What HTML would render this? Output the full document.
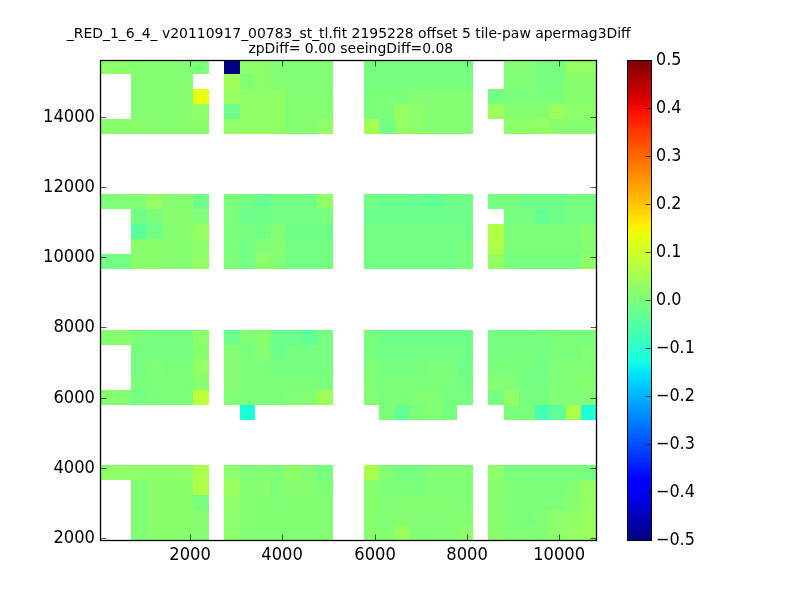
<!DOCTYPE html>
<html lang="en"><head><meta charset="utf-8"><title>apermag3Diff</title>
<style>html,body{margin:0;padding:0;background:#fff;}svg{display:block;}text{font-family:"DejaVu Sans","Liberation Sans",sans-serif;fill:#000;}</style></head><body>
<svg width="800" height="600" viewBox="0 0 800 600">
<defs><linearGradient id="jet" x1="0" y1="0" x2="0" y2="1"><stop offset="0%" stop-color="#800000"/><stop offset="1.56%" stop-color="#920000"/><stop offset="3.12%" stop-color="#a40000"/><stop offset="4.69%" stop-color="#b60000"/><stop offset="6.25%" stop-color="#c80000"/><stop offset="7.81%" stop-color="#da0000"/><stop offset="9.38%" stop-color="#ec0400"/><stop offset="10.94%" stop-color="#fe1200"/><stop offset="12.5%" stop-color="#ff2100"/><stop offset="14.06%" stop-color="#ff3000"/><stop offset="15.62%" stop-color="#ff3f00"/><stop offset="17.19%" stop-color="#ff4d00"/><stop offset="18.75%" stop-color="#ff5c00"/><stop offset="20.31%" stop-color="#ff6b00"/><stop offset="21.88%" stop-color="#ff7a00"/><stop offset="23.44%" stop-color="#ff8800"/><stop offset="25%" stop-color="#ff9700"/><stop offset="26.56%" stop-color="#ffa600"/><stop offset="28.12%" stop-color="#ffb500"/><stop offset="29.69%" stop-color="#ffc300"/><stop offset="31.25%" stop-color="#ffd200"/><stop offset="32.81%" stop-color="#ffe100"/><stop offset="34.38%" stop-color="#fcf000"/><stop offset="35.94%" stop-color="#effe08"/><stop offset="37.5%" stop-color="#e2ff15"/><stop offset="39.06%" stop-color="#d5ff21"/><stop offset="40.62%" stop-color="#c9ff2e"/><stop offset="42.19%" stop-color="#bcff3b"/><stop offset="43.75%" stop-color="#afff48"/><stop offset="45.31%" stop-color="#a2ff55"/><stop offset="46.88%" stop-color="#95ff62"/><stop offset="48.44%" stop-color="#88ff6f"/><stop offset="50%" stop-color="#7bff7b"/><stop offset="51.56%" stop-color="#6fff88"/><stop offset="53.12%" stop-color="#62ff95"/><stop offset="54.69%" stop-color="#55ffa2"/><stop offset="56.25%" stop-color="#48ffaf"/><stop offset="57.81%" stop-color="#3bffbc"/><stop offset="59.38%" stop-color="#2effc9"/><stop offset="60.94%" stop-color="#21ffd5"/><stop offset="62.5%" stop-color="#15ffe2"/><stop offset="64.06%" stop-color="#08efef"/><stop offset="65.62%" stop-color="#00dffc"/><stop offset="67.19%" stop-color="#00cfff"/><stop offset="68.75%" stop-color="#00bfff"/><stop offset="70.31%" stop-color="#00afff"/><stop offset="71.88%" stop-color="#009fff"/><stop offset="73.44%" stop-color="#008fff"/><stop offset="75%" stop-color="#0080ff"/><stop offset="76.56%" stop-color="#0070ff"/><stop offset="78.12%" stop-color="#0060ff"/><stop offset="79.69%" stop-color="#0050ff"/><stop offset="81.25%" stop-color="#0040ff"/><stop offset="82.81%" stop-color="#0030ff"/><stop offset="84.38%" stop-color="#0020ff"/><stop offset="85.94%" stop-color="#0010ff"/><stop offset="87.5%" stop-color="#0000ff"/><stop offset="89.06%" stop-color="#0000fe"/><stop offset="90.62%" stop-color="#0000ec"/><stop offset="92.19%" stop-color="#0000da"/><stop offset="93.75%" stop-color="#0000c8"/><stop offset="95.31%" stop-color="#0000b6"/><stop offset="96.88%" stop-color="#0000a4"/><stop offset="98.44%" stop-color="#000092"/><stop offset="100%" stop-color="#000080"/></linearGradient></defs>
<rect width="800" height="600" fill="#fff"/>
<g id="cells" shape-rendering="crispEdges"><rect x="100" y="60" width="16" height="14" fill="#8dff69"/>
<rect x="116" y="60" width="15" height="14" fill="#8dff69"/>
<rect x="131" y="60" width="16" height="14" fill="#84ff73"/>
<rect x="147" y="60" width="15" height="14" fill="#84ff73"/>
<rect x="162" y="60" width="16" height="14" fill="#84ff73"/>
<rect x="178" y="60" width="15" height="14" fill="#84ff73"/>
<rect x="193" y="60" width="16" height="14" fill="#7bff7b"/>
<rect x="224" y="60" width="16" height="14" fill="#000080"/>
<rect x="240" y="60" width="15" height="14" fill="#8cff6b"/>
<rect x="255" y="60" width="16" height="14" fill="#8cff6b"/>
<rect x="271" y="60" width="15" height="14" fill="#82ff75"/>
<rect x="286" y="60" width="16" height="14" fill="#82ff75"/>
<rect x="302" y="60" width="15" height="14" fill="#82ff75"/>
<rect x="317" y="60" width="16" height="14" fill="#82ff75"/>
<rect x="364" y="60" width="15" height="14" fill="#77ff80"/>
<rect x="379" y="60" width="16" height="14" fill="#77ff80"/>
<rect x="395" y="60" width="15" height="14" fill="#77ff80"/>
<rect x="410" y="60" width="16" height="14" fill="#77ff80"/>
<rect x="426" y="60" width="16" height="14" fill="#77ff80"/>
<rect x="442" y="60" width="15" height="14" fill="#77ff80"/>
<rect x="457" y="60" width="16" height="14" fill="#77ff80"/>
<rect x="504" y="60" width="15" height="14" fill="#84ff73"/>
<rect x="519" y="60" width="16" height="14" fill="#84ff73"/>
<rect x="535" y="60" width="15" height="14" fill="#77ff80"/>
<rect x="550" y="60" width="16" height="14" fill="#77ff80"/>
<rect x="566" y="60" width="15" height="14" fill="#94ff63"/>
<rect x="581" y="60" width="16" height="14" fill="#94ff63"/>
<rect x="131" y="74" width="16" height="15" fill="#84ff73"/>
<rect x="147" y="74" width="15" height="15" fill="#84ff73"/>
<rect x="162" y="74" width="16" height="15" fill="#84ff73"/>
<rect x="178" y="74" width="15" height="15" fill="#84ff73"/>
<rect x="224" y="74" width="16" height="15" fill="#a0ff56"/>
<rect x="240" y="74" width="15" height="15" fill="#80ff76"/>
<rect x="255" y="74" width="16" height="15" fill="#8cff6b"/>
<rect x="271" y="74" width="15" height="15" fill="#82ff75"/>
<rect x="286" y="74" width="16" height="15" fill="#82ff75"/>
<rect x="302" y="74" width="15" height="15" fill="#82ff75"/>
<rect x="317" y="74" width="16" height="15" fill="#82ff75"/>
<rect x="364" y="74" width="15" height="15" fill="#77ff80"/>
<rect x="379" y="74" width="16" height="15" fill="#77ff80"/>
<rect x="395" y="74" width="15" height="15" fill="#77ff80"/>
<rect x="410" y="74" width="16" height="15" fill="#77ff80"/>
<rect x="426" y="74" width="16" height="15" fill="#77ff80"/>
<rect x="442" y="74" width="15" height="15" fill="#77ff80"/>
<rect x="457" y="74" width="16" height="15" fill="#77ff80"/>
<rect x="504" y="74" width="15" height="15" fill="#80ff77"/>
<rect x="519" y="74" width="16" height="15" fill="#80ff77"/>
<rect x="535" y="74" width="15" height="15" fill="#77ff80"/>
<rect x="550" y="74" width="16" height="15" fill="#77ff80"/>
<rect x="566" y="74" width="15" height="15" fill="#88ff6f"/>
<rect x="581" y="74" width="16" height="15" fill="#88ff6f"/>
<rect x="131" y="89" width="16" height="15" fill="#84ff73"/>
<rect x="147" y="89" width="15" height="15" fill="#84ff73"/>
<rect x="162" y="89" width="16" height="15" fill="#85ff72"/>
<rect x="178" y="89" width="15" height="15" fill="#85ff72"/>
<rect x="193" y="89" width="16" height="15" fill="#e6ff10"/>
<rect x="224" y="89" width="16" height="15" fill="#98ff5f"/>
<rect x="240" y="89" width="15" height="15" fill="#90ff67"/>
<rect x="255" y="89" width="16" height="15" fill="#90ff67"/>
<rect x="271" y="89" width="15" height="15" fill="#90ff67"/>
<rect x="286" y="89" width="16" height="15" fill="#85ff72"/>
<rect x="302" y="89" width="15" height="15" fill="#85ff72"/>
<rect x="317" y="89" width="16" height="15" fill="#85ff72"/>
<rect x="364" y="89" width="15" height="15" fill="#7bff7b"/>
<rect x="379" y="89" width="16" height="15" fill="#7bff7b"/>
<rect x="395" y="89" width="15" height="15" fill="#7bff7b"/>
<rect x="410" y="89" width="16" height="15" fill="#84ff73"/>
<rect x="426" y="89" width="16" height="15" fill="#84ff73"/>
<rect x="442" y="89" width="15" height="15" fill="#84ff73"/>
<rect x="457" y="89" width="16" height="15" fill="#84ff73"/>
<rect x="488" y="89" width="16" height="15" fill="#73ff84"/>
<rect x="504" y="89" width="15" height="15" fill="#7bff7b"/>
<rect x="519" y="89" width="16" height="15" fill="#7bff7b"/>
<rect x="535" y="89" width="15" height="15" fill="#7bff7b"/>
<rect x="550" y="89" width="16" height="15" fill="#7bff7b"/>
<rect x="566" y="89" width="15" height="15" fill="#88ff6f"/>
<rect x="581" y="89" width="16" height="15" fill="#88ff6f"/>
<rect x="131" y="104" width="16" height="15" fill="#84ff73"/>
<rect x="147" y="104" width="15" height="15" fill="#84ff73"/>
<rect x="162" y="104" width="16" height="15" fill="#85ff72"/>
<rect x="178" y="104" width="15" height="15" fill="#87ff70"/>
<rect x="193" y="104" width="16" height="15" fill="#8cff6b"/>
<rect x="224" y="104" width="16" height="15" fill="#6fff88"/>
<rect x="240" y="104" width="15" height="15" fill="#90ff67"/>
<rect x="255" y="104" width="16" height="15" fill="#90ff67"/>
<rect x="271" y="104" width="15" height="15" fill="#90ff67"/>
<rect x="286" y="104" width="16" height="15" fill="#85ff72"/>
<rect x="302" y="104" width="15" height="15" fill="#85ff72"/>
<rect x="317" y="104" width="16" height="15" fill="#85ff72"/>
<rect x="364" y="104" width="15" height="15" fill="#7bff7b"/>
<rect x="379" y="104" width="16" height="15" fill="#7bff7b"/>
<rect x="395" y="104" width="15" height="15" fill="#94ff63"/>
<rect x="410" y="104" width="16" height="15" fill="#8cff6b"/>
<rect x="426" y="104" width="16" height="15" fill="#84ff73"/>
<rect x="442" y="104" width="15" height="15" fill="#84ff73"/>
<rect x="457" y="104" width="16" height="15" fill="#84ff73"/>
<rect x="488" y="104" width="16" height="15" fill="#9cff5a"/>
<rect x="504" y="104" width="15" height="15" fill="#88ff6f"/>
<rect x="519" y="104" width="16" height="15" fill="#88ff6f"/>
<rect x="535" y="104" width="15" height="15" fill="#88ff6f"/>
<rect x="550" y="104" width="16" height="15" fill="#98ff5f"/>
<rect x="566" y="104" width="15" height="15" fill="#8cff6b"/>
<rect x="581" y="104" width="16" height="15" fill="#8cff6b"/>
<rect x="100" y="119" width="16" height="15" fill="#89ff6e"/>
<rect x="116" y="119" width="15" height="15" fill="#89ff6e"/>
<rect x="131" y="119" width="16" height="15" fill="#89ff6e"/>
<rect x="147" y="119" width="15" height="15" fill="#86ff71"/>
<rect x="162" y="119" width="16" height="15" fill="#86ff71"/>
<rect x="178" y="119" width="15" height="15" fill="#89ff6e"/>
<rect x="193" y="119" width="16" height="15" fill="#89ff6e"/>
<rect x="224" y="119" width="16" height="15" fill="#90ff67"/>
<rect x="240" y="119" width="15" height="15" fill="#90ff67"/>
<rect x="255" y="119" width="16" height="15" fill="#90ff67"/>
<rect x="271" y="119" width="15" height="15" fill="#90ff67"/>
<rect x="286" y="119" width="16" height="15" fill="#85ff72"/>
<rect x="302" y="119" width="15" height="15" fill="#85ff72"/>
<rect x="317" y="119" width="16" height="15" fill="#90ff67"/>
<rect x="364" y="119" width="15" height="15" fill="#a5ff52"/>
<rect x="379" y="119" width="16" height="15" fill="#73ff84"/>
<rect x="395" y="119" width="15" height="15" fill="#94ff63"/>
<rect x="410" y="119" width="16" height="15" fill="#8cff6b"/>
<rect x="426" y="119" width="16" height="15" fill="#84ff73"/>
<rect x="442" y="119" width="15" height="15" fill="#84ff73"/>
<rect x="457" y="119" width="16" height="15" fill="#84ff73"/>
<rect x="504" y="119" width="15" height="15" fill="#8cff6b"/>
<rect x="519" y="119" width="16" height="15" fill="#8cff6b"/>
<rect x="535" y="119" width="15" height="15" fill="#94ff63"/>
<rect x="550" y="119" width="16" height="15" fill="#88ff6f"/>
<rect x="566" y="119" width="15" height="15" fill="#88ff6f"/>
<rect x="581" y="119" width="16" height="15" fill="#88ff6f"/>
<rect x="100" y="194" width="16" height="15" fill="#80ff77"/>
<rect x="116" y="194" width="15" height="15" fill="#80ff77"/>
<rect x="131" y="194" width="16" height="15" fill="#84ff73"/>
<rect x="147" y="194" width="15" height="15" fill="#94ff63"/>
<rect x="162" y="194" width="16" height="15" fill="#88ff6f"/>
<rect x="178" y="194" width="15" height="15" fill="#88ff6f"/>
<rect x="193" y="194" width="16" height="15" fill="#6fff88"/>
<rect x="224" y="194" width="16" height="15" fill="#7bff7b"/>
<rect x="240" y="194" width="15" height="15" fill="#73ff84"/>
<rect x="255" y="194" width="16" height="15" fill="#67ff90"/>
<rect x="271" y="194" width="15" height="15" fill="#73ff84"/>
<rect x="286" y="194" width="16" height="15" fill="#73ff84"/>
<rect x="302" y="194" width="15" height="15" fill="#73ff84"/>
<rect x="317" y="194" width="16" height="15" fill="#90ff67"/>
<rect x="364" y="194" width="15" height="15" fill="#72ff85"/>
<rect x="379" y="194" width="16" height="15" fill="#6bff8c"/>
<rect x="395" y="194" width="15" height="15" fill="#6bff8c"/>
<rect x="410" y="194" width="16" height="15" fill="#67ff90"/>
<rect x="426" y="194" width="16" height="15" fill="#64ff92"/>
<rect x="442" y="194" width="15" height="15" fill="#6dff8a"/>
<rect x="457" y="194" width="16" height="15" fill="#6fff88"/>
<rect x="488" y="194" width="16" height="15" fill="#77ff80"/>
<rect x="504" y="194" width="15" height="15" fill="#77ff80"/>
<rect x="519" y="194" width="16" height="15" fill="#6fff88"/>
<rect x="535" y="194" width="15" height="15" fill="#6fff88"/>
<rect x="550" y="194" width="16" height="15" fill="#6fff88"/>
<rect x="566" y="194" width="15" height="15" fill="#77ff80"/>
<rect x="581" y="194" width="16" height="15" fill="#77ff80"/>
<rect x="131" y="209" width="16" height="15" fill="#72ff85"/>
<rect x="147" y="209" width="15" height="15" fill="#7bff7b"/>
<rect x="162" y="209" width="16" height="15" fill="#88ff6f"/>
<rect x="178" y="209" width="15" height="15" fill="#88ff6f"/>
<rect x="193" y="209" width="16" height="15" fill="#80ff77"/>
<rect x="224" y="209" width="16" height="15" fill="#7bff7b"/>
<rect x="240" y="209" width="15" height="15" fill="#6fff88"/>
<rect x="255" y="209" width="16" height="15" fill="#6fff88"/>
<rect x="271" y="209" width="15" height="15" fill="#73ff84"/>
<rect x="286" y="209" width="16" height="15" fill="#73ff84"/>
<rect x="302" y="209" width="15" height="15" fill="#73ff84"/>
<rect x="317" y="209" width="16" height="15" fill="#77ff80"/>
<rect x="364" y="209" width="15" height="15" fill="#6eff89"/>
<rect x="379" y="209" width="16" height="15" fill="#6dff8a"/>
<rect x="395" y="209" width="15" height="15" fill="#6dff8a"/>
<rect x="410" y="209" width="16" height="15" fill="#6dff8a"/>
<rect x="426" y="209" width="16" height="15" fill="#6dff8a"/>
<rect x="442" y="209" width="15" height="15" fill="#6dff8a"/>
<rect x="457" y="209" width="16" height="15" fill="#6fff88"/>
<rect x="504" y="209" width="15" height="15" fill="#77ff80"/>
<rect x="519" y="209" width="16" height="15" fill="#77ff80"/>
<rect x="535" y="209" width="15" height="15" fill="#63ff94"/>
<rect x="550" y="209" width="16" height="15" fill="#6fff88"/>
<rect x="566" y="209" width="15" height="15" fill="#77ff80"/>
<rect x="581" y="209" width="16" height="15" fill="#77ff80"/>
<rect x="131" y="224" width="16" height="15" fill="#5aff9c"/>
<rect x="147" y="224" width="15" height="15" fill="#73ff84"/>
<rect x="162" y="224" width="16" height="15" fill="#80ff77"/>
<rect x="178" y="224" width="15" height="15" fill="#88ff6f"/>
<rect x="193" y="224" width="16" height="15" fill="#94ff63"/>
<rect x="224" y="224" width="16" height="15" fill="#7bff7b"/>
<rect x="240" y="224" width="15" height="15" fill="#77ff80"/>
<rect x="255" y="224" width="16" height="15" fill="#73ff84"/>
<rect x="271" y="224" width="15" height="15" fill="#84ff73"/>
<rect x="286" y="224" width="16" height="15" fill="#6fff88"/>
<rect x="302" y="224" width="15" height="15" fill="#6fff88"/>
<rect x="317" y="224" width="16" height="15" fill="#6fff88"/>
<rect x="364" y="224" width="15" height="15" fill="#72ff85"/>
<rect x="379" y="224" width="16" height="15" fill="#72ff85"/>
<rect x="395" y="224" width="15" height="15" fill="#72ff85"/>
<rect x="410" y="224" width="16" height="15" fill="#72ff85"/>
<rect x="426" y="224" width="16" height="15" fill="#72ff85"/>
<rect x="442" y="224" width="15" height="15" fill="#72ff85"/>
<rect x="457" y="224" width="16" height="15" fill="#72ff85"/>
<rect x="488" y="224" width="16" height="15" fill="#b1ff46"/>
<rect x="504" y="224" width="15" height="15" fill="#7bff7b"/>
<rect x="519" y="224" width="16" height="15" fill="#7bff7b"/>
<rect x="535" y="224" width="15" height="15" fill="#7bff7b"/>
<rect x="550" y="224" width="16" height="15" fill="#7bff7b"/>
<rect x="566" y="224" width="15" height="15" fill="#7bff7b"/>
<rect x="581" y="224" width="16" height="15" fill="#88ff6f"/>
<rect x="131" y="239" width="16" height="15" fill="#8aff6d"/>
<rect x="147" y="239" width="15" height="15" fill="#8aff6d"/>
<rect x="162" y="239" width="16" height="15" fill="#86ff71"/>
<rect x="178" y="239" width="15" height="15" fill="#86ff71"/>
<rect x="193" y="239" width="16" height="15" fill="#8dff69"/>
<rect x="224" y="239" width="16" height="15" fill="#7bff7b"/>
<rect x="240" y="239" width="15" height="15" fill="#73ff84"/>
<rect x="255" y="239" width="16" height="15" fill="#80ff77"/>
<rect x="271" y="239" width="15" height="15" fill="#84ff73"/>
<rect x="286" y="239" width="16" height="15" fill="#73ff84"/>
<rect x="302" y="239" width="15" height="15" fill="#73ff84"/>
<rect x="317" y="239" width="16" height="15" fill="#73ff84"/>
<rect x="364" y="239" width="15" height="15" fill="#72ff85"/>
<rect x="379" y="239" width="16" height="15" fill="#72ff85"/>
<rect x="395" y="239" width="15" height="15" fill="#72ff85"/>
<rect x="410" y="239" width="16" height="15" fill="#72ff85"/>
<rect x="426" y="239" width="16" height="15" fill="#72ff85"/>
<rect x="442" y="239" width="15" height="15" fill="#72ff85"/>
<rect x="457" y="239" width="16" height="15" fill="#78ff7f"/>
<rect x="488" y="239" width="16" height="15" fill="#adff4a"/>
<rect x="504" y="239" width="15" height="15" fill="#7bff7b"/>
<rect x="519" y="239" width="16" height="15" fill="#7bff7b"/>
<rect x="535" y="239" width="15" height="15" fill="#7bff7b"/>
<rect x="550" y="239" width="16" height="15" fill="#7bff7b"/>
<rect x="566" y="239" width="15" height="15" fill="#7bff7b"/>
<rect x="581" y="239" width="16" height="15" fill="#84ff73"/>
<rect x="100" y="254" width="16" height="15" fill="#73ff84"/>
<rect x="116" y="254" width="15" height="15" fill="#73ff84"/>
<rect x="131" y="254" width="16" height="15" fill="#8aff6d"/>
<rect x="147" y="254" width="15" height="15" fill="#8aff6d"/>
<rect x="162" y="254" width="16" height="15" fill="#86ff71"/>
<rect x="178" y="254" width="15" height="15" fill="#86ff71"/>
<rect x="193" y="254" width="16" height="15" fill="#92ff64"/>
<rect x="224" y="254" width="16" height="15" fill="#7bff7b"/>
<rect x="240" y="254" width="15" height="15" fill="#73ff84"/>
<rect x="255" y="254" width="16" height="15" fill="#8cff6b"/>
<rect x="271" y="254" width="15" height="15" fill="#80ff77"/>
<rect x="286" y="254" width="16" height="15" fill="#73ff84"/>
<rect x="302" y="254" width="15" height="15" fill="#73ff84"/>
<rect x="317" y="254" width="16" height="15" fill="#73ff84"/>
<rect x="364" y="254" width="15" height="15" fill="#72ff85"/>
<rect x="379" y="254" width="16" height="15" fill="#72ff85"/>
<rect x="395" y="254" width="15" height="15" fill="#72ff85"/>
<rect x="410" y="254" width="16" height="15" fill="#72ff85"/>
<rect x="426" y="254" width="16" height="15" fill="#72ff85"/>
<rect x="442" y="254" width="15" height="15" fill="#72ff85"/>
<rect x="457" y="254" width="16" height="15" fill="#78ff7f"/>
<rect x="488" y="254" width="16" height="15" fill="#94ff63"/>
<rect x="504" y="254" width="15" height="15" fill="#77ff80"/>
<rect x="519" y="254" width="16" height="15" fill="#77ff80"/>
<rect x="535" y="254" width="15" height="15" fill="#77ff80"/>
<rect x="550" y="254" width="16" height="15" fill="#77ff80"/>
<rect x="566" y="254" width="15" height="15" fill="#77ff80"/>
<rect x="581" y="254" width="16" height="15" fill="#90ff67"/>
<rect x="100" y="330" width="16" height="15" fill="#88ff6f"/>
<rect x="116" y="330" width="15" height="15" fill="#88ff6f"/>
<rect x="131" y="330" width="16" height="15" fill="#7bff7b"/>
<rect x="147" y="330" width="15" height="15" fill="#77ff80"/>
<rect x="162" y="330" width="16" height="15" fill="#77ff80"/>
<rect x="178" y="330" width="15" height="15" fill="#77ff80"/>
<rect x="193" y="330" width="16" height="15" fill="#8cff6b"/>
<rect x="224" y="330" width="16" height="15" fill="#6bff8c"/>
<rect x="240" y="330" width="15" height="15" fill="#80ff77"/>
<rect x="255" y="330" width="16" height="15" fill="#88ff6f"/>
<rect x="271" y="330" width="15" height="15" fill="#6bff8c"/>
<rect x="286" y="330" width="16" height="15" fill="#6bff8c"/>
<rect x="302" y="330" width="15" height="15" fill="#5fff98"/>
<rect x="317" y="330" width="16" height="15" fill="#77ff80"/>
<rect x="364" y="330" width="15" height="15" fill="#77ff80"/>
<rect x="379" y="330" width="16" height="15" fill="#6eff89"/>
<rect x="395" y="330" width="15" height="15" fill="#6dff8a"/>
<rect x="410" y="330" width="16" height="15" fill="#6dff8a"/>
<rect x="426" y="330" width="16" height="15" fill="#6dff8a"/>
<rect x="442" y="330" width="15" height="15" fill="#6dff8a"/>
<rect x="457" y="330" width="16" height="15" fill="#6eff89"/>
<rect x="488" y="330" width="16" height="15" fill="#77ff80"/>
<rect x="504" y="330" width="15" height="15" fill="#77ff80"/>
<rect x="519" y="330" width="16" height="15" fill="#77ff80"/>
<rect x="535" y="330" width="15" height="15" fill="#76ff81"/>
<rect x="550" y="330" width="16" height="15" fill="#7bff7b"/>
<rect x="566" y="330" width="15" height="15" fill="#7bff7b"/>
<rect x="581" y="330" width="16" height="15" fill="#7bff7b"/>
<rect x="131" y="345" width="16" height="15" fill="#77ff80"/>
<rect x="147" y="345" width="15" height="15" fill="#77ff80"/>
<rect x="162" y="345" width="16" height="15" fill="#77ff80"/>
<rect x="178" y="345" width="15" height="15" fill="#77ff80"/>
<rect x="193" y="345" width="16" height="15" fill="#88ff6f"/>
<rect x="224" y="345" width="16" height="15" fill="#84ff73"/>
<rect x="240" y="345" width="15" height="15" fill="#7bff7b"/>
<rect x="255" y="345" width="16" height="15" fill="#84ff73"/>
<rect x="271" y="345" width="15" height="15" fill="#6bff8c"/>
<rect x="286" y="345" width="16" height="15" fill="#77ff80"/>
<rect x="302" y="345" width="15" height="15" fill="#77ff80"/>
<rect x="317" y="345" width="16" height="15" fill="#77ff80"/>
<rect x="364" y="345" width="15" height="15" fill="#77ff80"/>
<rect x="379" y="345" width="16" height="15" fill="#72ff85"/>
<rect x="395" y="345" width="15" height="15" fill="#72ff85"/>
<rect x="410" y="345" width="16" height="15" fill="#72ff85"/>
<rect x="426" y="345" width="16" height="15" fill="#72ff85"/>
<rect x="442" y="345" width="15" height="15" fill="#72ff85"/>
<rect x="457" y="345" width="16" height="15" fill="#72ff85"/>
<rect x="488" y="345" width="16" height="15" fill="#77ff80"/>
<rect x="504" y="345" width="15" height="15" fill="#77ff80"/>
<rect x="519" y="345" width="16" height="15" fill="#77ff80"/>
<rect x="535" y="345" width="15" height="15" fill="#73ff84"/>
<rect x="550" y="345" width="16" height="15" fill="#7bff7b"/>
<rect x="566" y="345" width="15" height="15" fill="#7bff7b"/>
<rect x="581" y="345" width="16" height="15" fill="#84ff73"/>
<rect x="131" y="360" width="16" height="15" fill="#77ff80"/>
<rect x="147" y="360" width="15" height="15" fill="#80ff77"/>
<rect x="162" y="360" width="16" height="15" fill="#7bff7b"/>
<rect x="178" y="360" width="15" height="15" fill="#7bff7b"/>
<rect x="193" y="360" width="16" height="15" fill="#94ff63"/>
<rect x="224" y="360" width="16" height="15" fill="#84ff73"/>
<rect x="240" y="360" width="15" height="15" fill="#7bff7b"/>
<rect x="255" y="360" width="16" height="15" fill="#7bff7b"/>
<rect x="271" y="360" width="15" height="15" fill="#77ff80"/>
<rect x="286" y="360" width="16" height="15" fill="#77ff80"/>
<rect x="302" y="360" width="15" height="15" fill="#77ff80"/>
<rect x="317" y="360" width="16" height="15" fill="#77ff80"/>
<rect x="364" y="360" width="15" height="15" fill="#80ff77"/>
<rect x="379" y="360" width="16" height="15" fill="#77ff80"/>
<rect x="395" y="360" width="15" height="15" fill="#77ff80"/>
<rect x="410" y="360" width="16" height="15" fill="#77ff80"/>
<rect x="426" y="360" width="16" height="15" fill="#7eff79"/>
<rect x="442" y="360" width="15" height="15" fill="#7eff79"/>
<rect x="457" y="360" width="16" height="15" fill="#6fff88"/>
<rect x="488" y="360" width="16" height="15" fill="#7bff7b"/>
<rect x="504" y="360" width="15" height="15" fill="#7bff7b"/>
<rect x="519" y="360" width="16" height="15" fill="#77ff80"/>
<rect x="535" y="360" width="15" height="15" fill="#73ff84"/>
<rect x="550" y="360" width="16" height="15" fill="#80ff77"/>
<rect x="566" y="360" width="15" height="15" fill="#80ff77"/>
<rect x="581" y="360" width="16" height="15" fill="#80ff77"/>
<rect x="131" y="375" width="16" height="15" fill="#7bff7b"/>
<rect x="147" y="375" width="15" height="15" fill="#7bff7b"/>
<rect x="162" y="375" width="16" height="15" fill="#7bff7b"/>
<rect x="178" y="375" width="15" height="15" fill="#7bff7b"/>
<rect x="193" y="375" width="16" height="15" fill="#88ff6f"/>
<rect x="224" y="375" width="16" height="15" fill="#84ff73"/>
<rect x="240" y="375" width="15" height="15" fill="#7bff7b"/>
<rect x="255" y="375" width="16" height="15" fill="#7bff7b"/>
<rect x="271" y="375" width="15" height="15" fill="#7bff7b"/>
<rect x="286" y="375" width="16" height="15" fill="#7bff7b"/>
<rect x="302" y="375" width="15" height="15" fill="#7bff7b"/>
<rect x="317" y="375" width="16" height="15" fill="#7bff7b"/>
<rect x="364" y="375" width="15" height="15" fill="#80ff77"/>
<rect x="379" y="375" width="16" height="15" fill="#7bff7b"/>
<rect x="395" y="375" width="15" height="15" fill="#7bff7b"/>
<rect x="410" y="375" width="16" height="15" fill="#7bff7b"/>
<rect x="426" y="375" width="16" height="15" fill="#7bff7b"/>
<rect x="442" y="375" width="15" height="15" fill="#7bff7b"/>
<rect x="457" y="375" width="16" height="15" fill="#75ff82"/>
<rect x="488" y="375" width="16" height="15" fill="#84ff73"/>
<rect x="504" y="375" width="15" height="15" fill="#80ff77"/>
<rect x="519" y="375" width="16" height="15" fill="#75ff82"/>
<rect x="535" y="375" width="15" height="15" fill="#75ff82"/>
<rect x="550" y="375" width="16" height="15" fill="#80ff77"/>
<rect x="566" y="375" width="15" height="15" fill="#80ff77"/>
<rect x="581" y="375" width="16" height="15" fill="#88ff6f"/>
<rect x="100" y="390" width="16" height="15" fill="#88ff6f"/>
<rect x="116" y="390" width="15" height="15" fill="#84ff73"/>
<rect x="131" y="390" width="16" height="15" fill="#73ff84"/>
<rect x="147" y="390" width="15" height="15" fill="#7bff7b"/>
<rect x="162" y="390" width="16" height="15" fill="#7bff7b"/>
<rect x="178" y="390" width="15" height="15" fill="#7bff7b"/>
<rect x="193" y="390" width="16" height="15" fill="#bdff3a"/>
<rect x="224" y="390" width="16" height="15" fill="#80ff77"/>
<rect x="240" y="390" width="15" height="15" fill="#7bff7b"/>
<rect x="255" y="390" width="16" height="15" fill="#7bff7b"/>
<rect x="271" y="390" width="15" height="15" fill="#7bff7b"/>
<rect x="286" y="390" width="16" height="15" fill="#80ff77"/>
<rect x="302" y="390" width="15" height="15" fill="#84ff73"/>
<rect x="317" y="390" width="16" height="15" fill="#9cff5a"/>
<rect x="364" y="390" width="15" height="15" fill="#82ff75"/>
<rect x="379" y="390" width="16" height="15" fill="#7bff7b"/>
<rect x="395" y="390" width="15" height="15" fill="#7bff7b"/>
<rect x="410" y="390" width="16" height="15" fill="#82ff75"/>
<rect x="426" y="390" width="16" height="15" fill="#82ff75"/>
<rect x="442" y="390" width="15" height="15" fill="#78ff7f"/>
<rect x="457" y="390" width="16" height="15" fill="#78ff7f"/>
<rect x="488" y="390" width="16" height="15" fill="#77ff80"/>
<rect x="504" y="390" width="15" height="15" fill="#90ff67"/>
<rect x="519" y="390" width="16" height="15" fill="#77ff80"/>
<rect x="535" y="390" width="15" height="15" fill="#77ff80"/>
<rect x="550" y="390" width="16" height="15" fill="#80ff77"/>
<rect x="566" y="390" width="15" height="15" fill="#80ff77"/>
<rect x="581" y="390" width="16" height="15" fill="#80ff77"/>
<rect x="240" y="405" width="15" height="15" fill="#19ffde"/>
<rect x="379" y="405" width="16" height="15" fill="#7bff7b"/>
<rect x="395" y="405" width="15" height="15" fill="#63ff94"/>
<rect x="410" y="405" width="16" height="15" fill="#7bff7b"/>
<rect x="426" y="405" width="16" height="15" fill="#84ff73"/>
<rect x="442" y="405" width="15" height="15" fill="#77ff80"/>
<rect x="504" y="405" width="15" height="15" fill="#7bff7b"/>
<rect x="519" y="405" width="16" height="15" fill="#7bff7b"/>
<rect x="535" y="405" width="15" height="15" fill="#45ffb2"/>
<rect x="550" y="405" width="16" height="15" fill="#5fff97"/>
<rect x="566" y="405" width="15" height="15" fill="#adff4a"/>
<rect x="581" y="405" width="16" height="15" fill="#1fffd8"/>
<rect x="100" y="465" width="16" height="15" fill="#90ff67"/>
<rect x="116" y="465" width="15" height="15" fill="#90ff67"/>
<rect x="131" y="465" width="16" height="15" fill="#8cff6b"/>
<rect x="147" y="465" width="15" height="15" fill="#8cff6b"/>
<rect x="162" y="465" width="16" height="15" fill="#8cff6b"/>
<rect x="178" y="465" width="15" height="15" fill="#8cff6b"/>
<rect x="193" y="465" width="16" height="15" fill="#adff4a"/>
<rect x="224" y="465" width="16" height="15" fill="#8bff6c"/>
<rect x="240" y="465" width="15" height="15" fill="#7fff78"/>
<rect x="255" y="465" width="16" height="15" fill="#83ff74"/>
<rect x="271" y="465" width="15" height="15" fill="#7fff78"/>
<rect x="286" y="465" width="16" height="15" fill="#8dff69"/>
<rect x="302" y="465" width="15" height="15" fill="#83ff74"/>
<rect x="317" y="465" width="16" height="15" fill="#76ff80"/>
<rect x="364" y="465" width="15" height="15" fill="#a9ff4e"/>
<rect x="379" y="465" width="16" height="15" fill="#80ff77"/>
<rect x="395" y="465" width="15" height="15" fill="#77ff80"/>
<rect x="410" y="465" width="16" height="15" fill="#77ff80"/>
<rect x="426" y="465" width="16" height="15" fill="#80ff77"/>
<rect x="442" y="465" width="15" height="15" fill="#80ff77"/>
<rect x="457" y="465" width="16" height="15" fill="#80ff77"/>
<rect x="488" y="465" width="16" height="15" fill="#8cff6b"/>
<rect x="504" y="465" width="15" height="15" fill="#7bff7b"/>
<rect x="519" y="465" width="16" height="15" fill="#7bff7b"/>
<rect x="535" y="465" width="15" height="15" fill="#7bff7b"/>
<rect x="550" y="465" width="16" height="15" fill="#7bff7b"/>
<rect x="566" y="465" width="15" height="15" fill="#7bff7b"/>
<rect x="581" y="465" width="16" height="15" fill="#77ff80"/>
<rect x="131" y="480" width="16" height="15" fill="#81ff76"/>
<rect x="147" y="480" width="15" height="15" fill="#89ff6d"/>
<rect x="162" y="480" width="16" height="15" fill="#89ff6d"/>
<rect x="178" y="480" width="15" height="15" fill="#89ff6d"/>
<rect x="193" y="480" width="16" height="15" fill="#adff4a"/>
<rect x="224" y="480" width="16" height="15" fill="#9aff5d"/>
<rect x="240" y="480" width="15" height="15" fill="#83ff74"/>
<rect x="255" y="480" width="16" height="15" fill="#87ff70"/>
<rect x="271" y="480" width="15" height="15" fill="#7fff78"/>
<rect x="286" y="480" width="16" height="15" fill="#87ff70"/>
<rect x="302" y="480" width="15" height="15" fill="#87ff70"/>
<rect x="317" y="480" width="16" height="15" fill="#7fff78"/>
<rect x="364" y="480" width="15" height="15" fill="#88ff6f"/>
<rect x="379" y="480" width="16" height="15" fill="#7bff7b"/>
<rect x="395" y="480" width="15" height="15" fill="#7bff7b"/>
<rect x="410" y="480" width="16" height="15" fill="#7bff7b"/>
<rect x="426" y="480" width="16" height="15" fill="#80ff77"/>
<rect x="442" y="480" width="15" height="15" fill="#80ff77"/>
<rect x="457" y="480" width="16" height="15" fill="#80ff77"/>
<rect x="488" y="480" width="16" height="15" fill="#8aff6d"/>
<rect x="504" y="480" width="15" height="15" fill="#7eff79"/>
<rect x="519" y="480" width="16" height="15" fill="#7bff7b"/>
<rect x="535" y="480" width="15" height="15" fill="#7bff7b"/>
<rect x="550" y="480" width="16" height="15" fill="#7bff7b"/>
<rect x="566" y="480" width="15" height="15" fill="#85ff72"/>
<rect x="581" y="480" width="16" height="15" fill="#94ff63"/>
<rect x="131" y="495" width="16" height="15" fill="#81ff76"/>
<rect x="147" y="495" width="15" height="15" fill="#89ff6d"/>
<rect x="162" y="495" width="16" height="15" fill="#89ff6d"/>
<rect x="178" y="495" width="15" height="15" fill="#89ff6d"/>
<rect x="193" y="495" width="16" height="15" fill="#77ff80"/>
<rect x="224" y="495" width="16" height="15" fill="#8fff68"/>
<rect x="240" y="495" width="15" height="15" fill="#83ff74"/>
<rect x="255" y="495" width="16" height="15" fill="#83ff74"/>
<rect x="271" y="495" width="15" height="15" fill="#7fff78"/>
<rect x="286" y="495" width="16" height="15" fill="#83ff74"/>
<rect x="302" y="495" width="15" height="15" fill="#83ff74"/>
<rect x="317" y="495" width="16" height="15" fill="#83ff74"/>
<rect x="364" y="495" width="15" height="15" fill="#88ff6f"/>
<rect x="379" y="495" width="16" height="15" fill="#80ff77"/>
<rect x="395" y="495" width="15" height="15" fill="#84ff73"/>
<rect x="410" y="495" width="16" height="15" fill="#84ff73"/>
<rect x="426" y="495" width="16" height="15" fill="#84ff73"/>
<rect x="442" y="495" width="15" height="15" fill="#84ff73"/>
<rect x="457" y="495" width="16" height="15" fill="#80ff77"/>
<rect x="488" y="495" width="16" height="15" fill="#88ff6f"/>
<rect x="504" y="495" width="15" height="15" fill="#7eff79"/>
<rect x="519" y="495" width="16" height="15" fill="#7eff79"/>
<rect x="535" y="495" width="15" height="15" fill="#7eff79"/>
<rect x="550" y="495" width="16" height="15" fill="#7eff79"/>
<rect x="566" y="495" width="15" height="15" fill="#88ff6f"/>
<rect x="581" y="495" width="16" height="15" fill="#94ff63"/>
<rect x="131" y="510" width="16" height="15" fill="#81ff76"/>
<rect x="147" y="510" width="15" height="15" fill="#89ff6d"/>
<rect x="162" y="510" width="16" height="15" fill="#89ff6d"/>
<rect x="178" y="510" width="15" height="15" fill="#89ff6d"/>
<rect x="193" y="510" width="16" height="15" fill="#85ff72"/>
<rect x="224" y="510" width="16" height="15" fill="#8bff6c"/>
<rect x="240" y="510" width="15" height="15" fill="#83ff74"/>
<rect x="255" y="510" width="16" height="15" fill="#83ff74"/>
<rect x="271" y="510" width="15" height="15" fill="#83ff74"/>
<rect x="286" y="510" width="16" height="15" fill="#83ff74"/>
<rect x="302" y="510" width="15" height="15" fill="#83ff74"/>
<rect x="317" y="510" width="16" height="15" fill="#83ff74"/>
<rect x="364" y="510" width="15" height="15" fill="#88ff6f"/>
<rect x="379" y="510" width="16" height="15" fill="#80ff77"/>
<rect x="395" y="510" width="15" height="15" fill="#84ff73"/>
<rect x="410" y="510" width="16" height="15" fill="#84ff73"/>
<rect x="426" y="510" width="16" height="15" fill="#84ff73"/>
<rect x="442" y="510" width="15" height="15" fill="#84ff73"/>
<rect x="457" y="510" width="16" height="15" fill="#84ff73"/>
<rect x="488" y="510" width="16" height="15" fill="#8aff6d"/>
<rect x="504" y="510" width="15" height="15" fill="#7eff79"/>
<rect x="519" y="510" width="16" height="15" fill="#7bff7b"/>
<rect x="535" y="510" width="15" height="15" fill="#80ff77"/>
<rect x="550" y="510" width="16" height="15" fill="#8cff6b"/>
<rect x="566" y="510" width="15" height="15" fill="#90ff67"/>
<rect x="581" y="510" width="16" height="15" fill="#97ff60"/>
<rect x="131" y="525" width="16" height="15" fill="#81ff76"/>
<rect x="147" y="525" width="15" height="15" fill="#89ff6d"/>
<rect x="162" y="525" width="16" height="15" fill="#89ff6d"/>
<rect x="178" y="525" width="15" height="15" fill="#89ff6d"/>
<rect x="193" y="525" width="16" height="15" fill="#85ff72"/>
<rect x="224" y="525" width="16" height="15" fill="#8bff6c"/>
<rect x="240" y="525" width="15" height="15" fill="#83ff74"/>
<rect x="255" y="525" width="16" height="15" fill="#83ff74"/>
<rect x="271" y="525" width="15" height="15" fill="#83ff74"/>
<rect x="286" y="525" width="16" height="15" fill="#83ff74"/>
<rect x="302" y="525" width="15" height="15" fill="#83ff74"/>
<rect x="317" y="525" width="16" height="15" fill="#83ff74"/>
<rect x="364" y="525" width="15" height="15" fill="#88ff6f"/>
<rect x="379" y="525" width="16" height="15" fill="#84ff73"/>
<rect x="395" y="525" width="15" height="15" fill="#98ff5f"/>
<rect x="410" y="525" width="16" height="15" fill="#80ff77"/>
<rect x="426" y="525" width="16" height="15" fill="#80ff77"/>
<rect x="442" y="525" width="15" height="15" fill="#80ff77"/>
<rect x="457" y="525" width="16" height="15" fill="#8cff6b"/>
<rect x="488" y="525" width="16" height="15" fill="#8aff6d"/>
<rect x="504" y="525" width="15" height="15" fill="#80ff77"/>
<rect x="519" y="525" width="16" height="15" fill="#80ff77"/>
<rect x="535" y="525" width="15" height="15" fill="#82ff75"/>
<rect x="550" y="525" width="16" height="15" fill="#8dff69"/>
<rect x="566" y="525" width="15" height="15" fill="#94ff63"/>
<rect x="581" y="525" width="16" height="15" fill="#9aff5d"/></g>
<rect x="100.5" y="60.5" width="496.0" height="480.0" fill="none" stroke="#000" stroke-width="1.3"/>
<path d="M190.5 540.5v-6M190.5 60.5v6M282.5 540.5v-6M282.5 60.5v6M375.5 540.5v-6M375.5 60.5v6M467.5 540.5v-6M467.5 60.5v6M559.5 540.5v-6M559.5 60.5v6M100.5 117.5h6M596.5 117.5h-6M100.5 187.5h6M596.5 187.5h-6M100.5 257.5h6M596.5 257.5h-6M100.5 327.5h6M596.5 327.5h-6M100.5 398.5h6M596.5 398.5h-6M100.5 468.5h6M596.5 468.5h-6M100.5 538.5h6M596.5 538.5h-6" stroke="#000" stroke-width="0.65" fill="none"/>
<text transform="translate(190.1,559.8) scale(0.98,1.03)" font-size="16.67" text-anchor="middle">2000</text>
<text transform="translate(282.1,559.8) scale(0.98,1.03)" font-size="16.67" text-anchor="middle">4000</text>
<text transform="translate(375.1,559.8) scale(0.98,1.03)" font-size="16.67" text-anchor="middle">6000</text>
<text transform="translate(467.1,559.8) scale(0.98,1.03)" font-size="16.67" text-anchor="middle">8000</text>
<text transform="translate(559.1,559.8) scale(0.98,1.03)" font-size="16.67" text-anchor="middle">10000</text>
<text transform="translate(95,122.3) scale(0.98,1.03)" font-size="16.67" text-anchor="end">14000</text>
<text transform="translate(95,192.3) scale(0.98,1.03)" font-size="16.67" text-anchor="end">12000</text>
<text transform="translate(95,262.3) scale(0.98,1.03)" font-size="16.67" text-anchor="end">10000</text>
<text transform="translate(95,332.3) scale(0.98,1.03)" font-size="16.67" text-anchor="end">8000</text>
<text transform="translate(95,403.3) scale(0.98,1.03)" font-size="16.67" text-anchor="end">6000</text>
<text transform="translate(95,473.3) scale(0.98,1.03)" font-size="16.67" text-anchor="end">4000</text>
<text transform="translate(95,543.3) scale(0.98,1.03)" font-size="16.67" text-anchor="end">2000</text>
<text x="348.8" y="38" font-size="13.94" text-anchor="middle">_RED_1_6_4_ v20110917_00783_st_tl.fit 2195228 offset 5 tile-paw apermag3Diff</text>
<text x="350.8" y="52.7" font-size="13.94" text-anchor="middle">zpDiff= 0.00 seeingDiff=0.08</text>
<rect x="627.5" y="60.5" width="24.0" height="480.0" fill="url(#jet)" stroke="#000" stroke-width="1"/>
<text transform="translate(656,64.9) scale(0.96,1.04)" font-size="16.67">0.5</text>
<text transform="translate(656,112.9) scale(0.96,1.04)" font-size="16.67">0.4</text>
<text transform="translate(656,160.9) scale(0.96,1.04)" font-size="16.67">0.3</text>
<text transform="translate(656,208.9) scale(0.96,1.04)" font-size="16.67">0.2</text>
<text transform="translate(656,256.9) scale(0.96,1.04)" font-size="16.67">0.1</text>
<text transform="translate(656,304.9) scale(0.96,1.04)" font-size="16.67">0.0</text>
<text transform="translate(656,352.9) scale(0.96,1.04)" font-size="16.67">−0.1</text>
<text transform="translate(656,400.9) scale(0.96,1.04)" font-size="16.67">−0.2</text>
<text transform="translate(656,448.9) scale(0.96,1.04)" font-size="16.67">−0.3</text>
<text transform="translate(656,496.9) scale(0.96,1.04)" font-size="16.67">−0.4</text>
<text transform="translate(656,544.9) scale(0.96,1.04)" font-size="16.67">−0.5</text>
<path d="M651.5 108.5h-6M651.5 156.5h-6M651.5 204.5h-6M651.5 252.5h-6M651.5 300.5h-6M651.5 348.5h-6M651.5 396.5h-6M651.5 444.5h-6M651.5 492.5h-6" stroke="#000" stroke-width="0.65" fill="none"/>
</svg></body></html>
